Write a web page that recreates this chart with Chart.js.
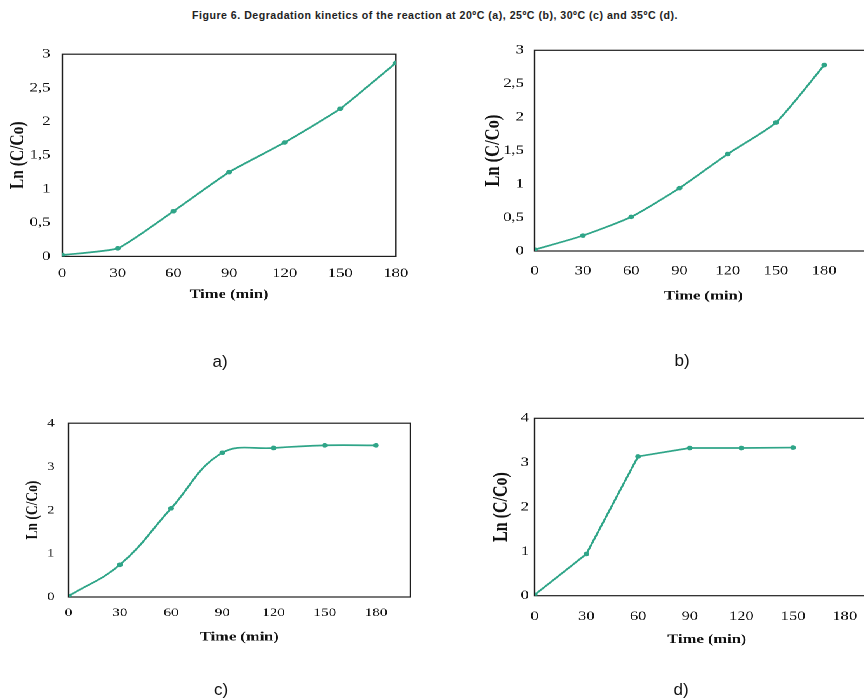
<!DOCTYPE html>
<html>
<head>
<meta charset="utf-8">
<script src="https://cdn.jsdelivr.net/npm/chart.js@4.4.1/dist/chart.umd.min.js"></script>
<style>
html,body{margin:0;padding:0;background:#fff;overflow:hidden;width:864px;height:699px;}
#stage{position:absolute;left:0;top:0;width:680.3px;height:699px;transform:scaleX(1.27);transform-origin:0 0;overflow:hidden;}
#stage canvas{position:absolute;}
.lbl{position:absolute;font-family:"Liberation Sans",Arial,sans-serif;font-size:17px;color:#111;transform:translate(-50%,-50%);white-space:nowrap;}
#title{position:absolute;left:435px;top:15px;transform:translate(-50%,-50%);font-family:"Liberation Sans",Arial,sans-serif;font-weight:bold;font-size:10.6px;letter-spacing:0.5px;color:#222;white-space:nowrap;}
</style>
</head>
<body>
<div id="title">Figure 6. Degradation kinetics of the reaction at 20ºC (a), 25ºC (b), 30ºC (c) and 35ºC (d).</div>
<div id="stage"></div>
<div class="lbl" style="left:220px;top:362px;">a)</div>
<div class="lbl" style="left:682px;top:361px;">b)</div>
<div class="lbl" style="left:221px;top:690px;">c)</div>
<div class="lbl" style="left:681px;top:690px;">d)</div>
<script>
// ---- data ----
const timeA = [0, 30, 60, 90, 120, 150, 180];
const lnA   = [0.02, 0.12, 0.67, 1.25, 1.69, 2.19, 2.87];
const timeB = [0, 30, 60, 90, 120, 150, 180];
const lnB   = [0.02, 0.23, 0.51, 0.94, 1.45, 1.92, 2.78];
const timeC = [0, 30, 60, 90, 120, 150, 180];
const lnC   = [0.02, 0.74, 2.04, 3.32, 3.43, 3.49, 3.49];
const timeD = [0, 30, 60, 90, 120, 150];
const lnD   = [0.02, 0.94, 3.14, 3.33, 3.33, 3.34];
const xTickLabels = [0, 30, 60, 90, 120, 150, 180];
const yTitle = 'Ln (C/Co)';
const xTitle = 'Time (min)';

// ---- layout (unstretched coords) ----
const panels = [
  {t: timeA, v: lnA, pl: 48.8, pt: 49.3, pr: 316.3, pb: 256.7, xmax: 180, ymax: 3, ystep: 0.5, yTitleCx: 14.2, yTitleSize: 15.5, tickSize: 13, yTickPad: 9.4, xTickPad: 9.6, xTitleCy: 295, tension: 0.15},
  {t: timeB, v: lnB, pl: 420.5, pt: 45.7, pr: 686.5, pb: 250.7, xmax: 210, ymax: 3, ystep: 0.5, yTitleCx: 388.4, yTitleSize: 16.5, tickSize: 13, yTickPad: 8.5, xTickPad: 12.3, xTitleCy: 296, tension: 0.2},
  {t: timeC, v: lnC, pl: 53.8, pt: 416.7, pr: 322.8, pb: 596.7, xmax: 200, ymax: 4, ystep: 1, yTitleCx: 26, yTitleSize: 13.5, tickSize: 12, yTickPad: 11, xTickPad: 8.5, xTitleCy: 636.7, tension: 0.4},
  {t: timeD, v: lnD, pl: 420.5, pt: 418.3, pr: 691.8, pb: 596, xmax: 200, ymax: 4, ystep: 1, yTitleCx: 394.5, yTitleSize: 16, tickSize: 13, yTickPad: 4.5, xTickPad: 13, xTitleCy: 640, tension: 0}
];

const LINE = '#2fa588';
const YW = 48, PADT = 12;
const SERIF = '"Liberation Serif","Times New Roman",serif';
const boxPlugin = {
  id: 'box',
  beforeDatasetsDraw(chart) {
    const a = chart.chartArea, ctx = chart.ctx;
    ctx.save();
    ctx.strokeStyle = '#1e1e1e';
    ctx.lineWidth = 1.2;
    ctx.strokeRect(a.left, a.top, a.right - a.left, a.bottom - a.top);
    ctx.restore();
  }
};

const stage = document.getElementById('stage');
panels.forEach(p => {
  const plotW = p.pr - p.pl, plotH = p.pb - p.pt;
  const left = p.pl - YW, top = p.pt - PADT;
  const width = Math.ceil(YW + plotW + 14);
  const height = Math.ceil(PADT + plotH + 56);
  const padR = width - YW - plotW;
  const xH = height - PADT - plotH;
  const xlh = 13 * 1.2;
  const ylh = p.yTitleSize * 1.2;
  const cv = document.createElement('canvas');
  cv.width = width; cv.height = height;
  cv.style.left = left + 'px'; cv.style.top = top + 'px';
  stage.appendChild(cv);
  new Chart(cv, {
    type: 'line',
    data: {
      datasets: [{
        data: p.t.map((x, i) => ({x: x, y: p.v[i]})),
        borderColor: LINE,
        backgroundColor: LINE,
        borderWidth: 1.7,
        pointRadius: 2.3,
        pointBorderWidth: 0,
        pointBackgroundColor: LINE,
        tension: p.tension,
        fill: false
      }]
    },
    options: {
      responsive: false,
      animation: false,
      devicePixelRatio: 2,
      layout: {padding: {left: 0, top: PADT, right: padR, bottom: 0}},
      plugins: {legend: {display: false}, tooltip: {enabled: false}},
      scales: {
        x: {
          type: 'linear', min: 0, max: p.xmax,
          grid: {display: false, drawTicks: false},
          border: {display: false},
          afterBuildTicks: s => { s.ticks = xTickLabels.map(v => ({value: v})); },
          ticks: {
            padding: p.xTickPad, maxRotation: 0, autoSkip: false,
            color: '#111', font: {family: SERIF, size: p.tickSize},
            callback: v => String(v)
          },
          title: {
            display: true, text: xTitle, color: '#111',
            font: {family: SERIF, size: 13, weight: 'bold'},
            padding: {top: 0, bottom: p.pb + xH - xlh / 2 - p.xTitleCy}
          },
          afterFit: s => { s.height = xH; }
        },
        y: {
          type: 'linear', min: 0, max: p.ymax,
          grid: {display: false, drawTicks: false},
          border: {display: false},
          ticks: {
            stepSize: p.ystep, padding: p.yTickPad,
            color: '#111', font: {family: SERIF, size: p.tickSize},
            callback: v => String(v).replace('.', ',')
          },
          title: {
            display: true, text: yTitle, color: '#111',
            font: {family: SERIF, size: p.yTitleSize, weight: 'bold'},
            padding: {top: p.yTitleCx - left - ylh / 2, bottom: 0}
          },
          afterFit: s => { s.width = YW; }
        }
      }
    },
    plugins: [boxPlugin]
  });
});
</script>
</body>
</html>
